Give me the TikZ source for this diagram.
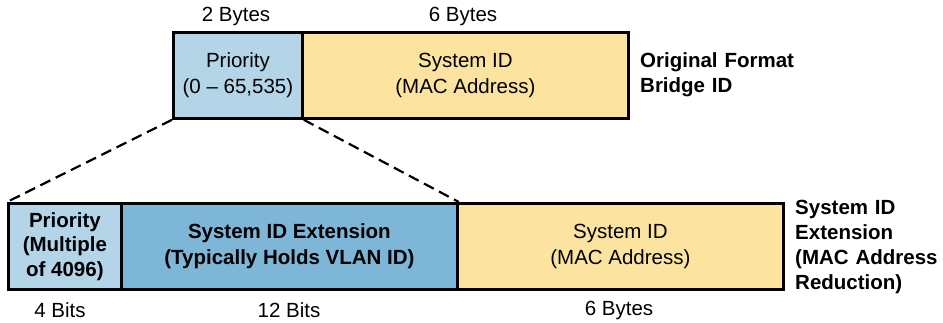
\documentclass[tikz,border=0pt]{standalone}
\usepackage{fontspec}
\setmainfont{Liberation Sans}
\definecolor{lblue}{HTML}{B4D5E8}
\definecolor{mblue}{HTML}{7EB6D7}
\definecolor{lyell}{HTML}{FDE3A0}
\begin{document}
\begin{tikzpicture}[x=1pt,y=-1pt,
  field/.style={draw=black,line width=2.8pt,inner sep=0pt,anchor=north west,align=center,font=\fontsize{20.5}{26}\selectfont},
  lbl/.style={font=\fontsize{20.5}{25}\selectfont,inner sep=0pt},
  side/.style={font=\fontsize{20.5}{25}\selectfont\bfseries,inner sep=0pt,align=left,anchor=west},
  zoomline/.style={line width=2.2pt,dash pattern=on 11pt off 6pt}]
\useasboundingbox (0,0) rectangle (943,322);
% top row
\node[field,fill=lblue,minimum width=129pt,minimum height=86pt] (tp) at (172,31) {Priority\\(0 -- 65,535)};
\node[field,fill=lyell,minimum width=326pt,minimum height=86pt] (ts) at (301,31) {System ID\\(MAC Address)};
\node[lbl] (l2b) at (236,16) {2 Bytes};
\node[lbl] (l6b) at (463,16) {6 Bytes};
\node[side,text width=200pt] (orig) at (640,75) {Original Format\\Bridge ID};
% bottom row
\node[field,fill=lblue,minimum width=113pt,minimum height=86pt,font=\fontsize{20.5}{24.5}\selectfont\bfseries] (bp) at (7,202) {Priority\\(Multiple\\of 4096)};
\node[field,fill=mblue,minimum width=336pt,minimum height=86pt,font=\fontsize{20.5}{26}\selectfont\bfseries] (be) at (120,202) {System ID Extension\\(Typically Holds VLAN ID)};
\node[field,fill=lyell,minimum width=326pt,minimum height=86pt] (bs) at (456,202) {System ID\\(MAC Address)};
\node[lbl] (l4) at (60,310) {4 Bits};
\node[lbl] (l12) at (289,310) {12 Bits};
\node[lbl] (l6) at (619,310) {6 Bytes};
\node[side,text width=150pt] (ext) at (795,247) {System ID\\Extension\\(MAC Address\\Reduction)};
% zoom lines
\draw[zoomline] (tp.south west) -- (bp.north west);
\draw[zoomline] (tp.south east) -- (be.north east);
\end{tikzpicture}
\end{document}
